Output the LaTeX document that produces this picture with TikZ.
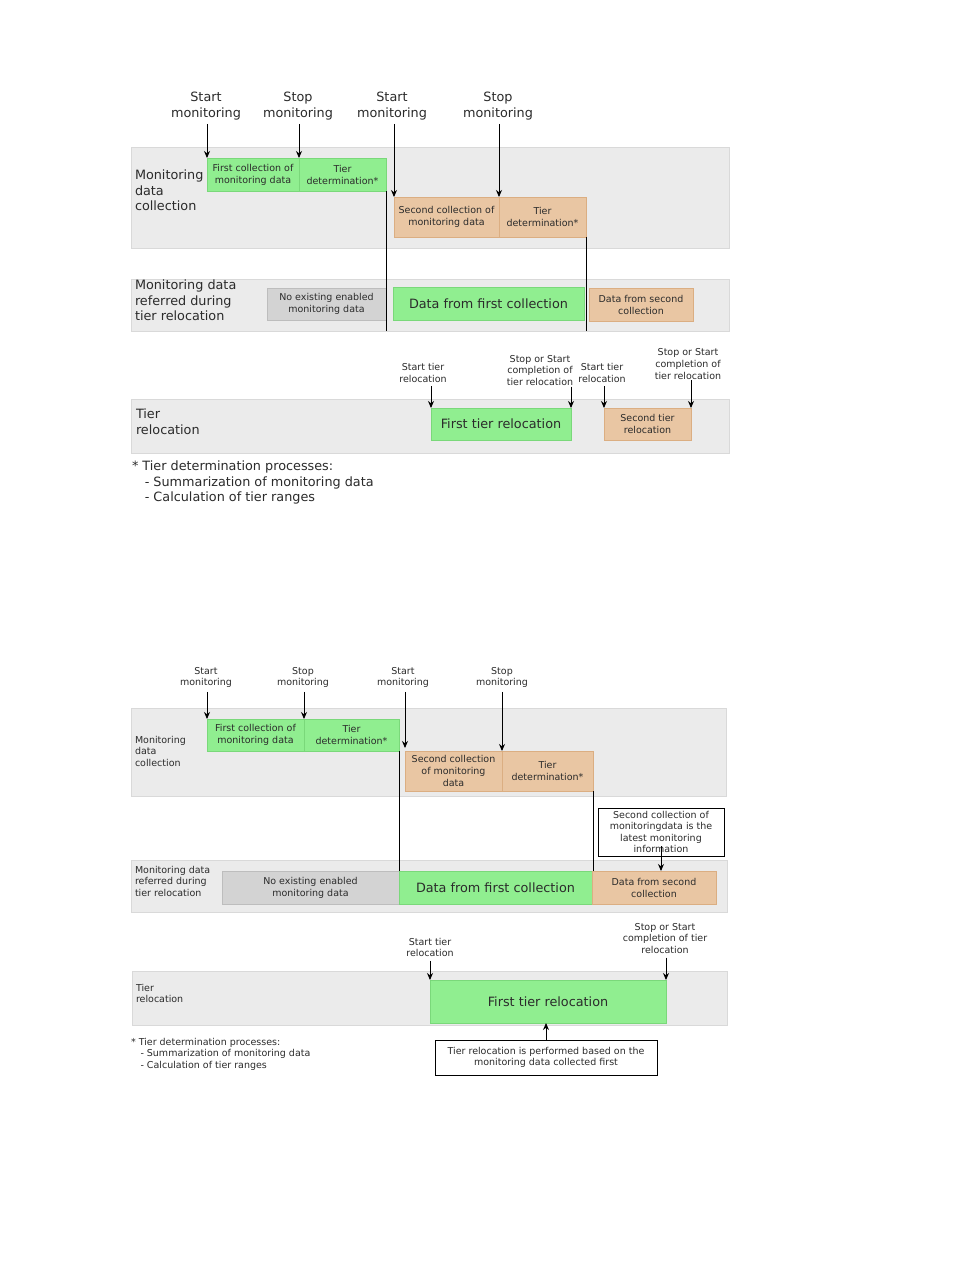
\documentclass[tikz,border=0pt]{standalone}
\usepackage{fontspec}
\setmainfont{DejaVu Sans}
\usetikzlibrary{positioning}
\usetikzlibrary{calc}
\usetikzlibrary{arrows.meta}

\definecolor{bandgray}{HTML}{EBEBEB}
\definecolor{bandline}{HTML}{D9D9D9}
\definecolor{boxgreen}{HTML}{90EE90}
\definecolor{linegreen}{HTML}{7AD87A}
\definecolor{boxorange}{HTML}{E9C6A3}
\definecolor{lineorange}{HTML}{DBAE82}
\definecolor{boxgray}{HTML}{D3D3D3}
\definecolor{linegray}{HTML}{BDBDBD}
\definecolor{txt}{HTML}{2B2B2B}

\newcommand{\bigtxt}{\fontsize{12.8}{15.5}\selectfont}
\newcommand{\smalltxt}{\fontsize{9.5}{11.6}\selectfont}
\newcommand{\boxtxt}{\fontsize{9.5}{12}\selectfont}

\begin{document}
\begin{tikzpicture}[x=1pt,y=-1pt,>={Stealth[length=7pt,width=6pt]},
	every node/.style={text=txt,inner sep=0pt,outer sep=0pt,align=center},
	sz/.style 2 args={anchor=north west,minimum width=#1pt,minimum height=#2pt},
	band/.style={draw=bandline,fill=bandgray,line width=0.8pt},
	greenbox/.style={draw=linegreen,fill=boxgreen,line width=0.8pt,font=\boxtxt},
	orangebox/.style={draw=lineorange,fill=boxorange,line width=0.8pt,font=\boxtxt},
	graybox/.style={draw=linegray,fill=boxgray,line width=0.8pt,font=\boxtxt},
	callout/.style={draw=black,fill=white,line width=0.9pt,font=\smalltxt},
	rowlabel/.style={anchor=north west,align=left},
	arr/.style={->,line width=0.9pt},
	link/.style={line width=0.9pt}]

	\fill[white] (0,0) rectangle (954,1270);
	\useasboundingbox (0,0) rectangle (954,1270);

	%% first diagram
	\node[band,sz={598}{101}] (band_1) at (131,147) {};
	\node[band,sz={598}{52}]  (band_2) at (131,279) {};
	\node[band,sz={598}{54}]  (band_3) at (131,399) {};

	\node[rowlabel,font=\bigtxt] (row_1) at (135,170) {Monitoring\\data\\collection};
	\node[rowlabel,font=\bigtxt] (row_2) at (135,280) {Monitoring data\\referred during\\tier relocation};
	\node[rowlabel,font=\bigtxt] (row_3) at (136,409) {Tier\\relocation};

	\node[font=\bigtxt] (sm_1) at (206,106) {Start\\monitoring};
	\node[font=\bigtxt] (sp_1) at (298,106) {Stop\\monitoring};
	\node[font=\bigtxt] (sm_2) at (392,106) {Start\\monitoring};
	\node[font=\bigtxt] (sp_2) at (498,106) {Stop\\monitoring};

	\node[greenbox,sz={92}{33}]   (fc_1) at (207,158) {First collection of\\monitoring data};
	\node[greenbox,sz={87}{33}]   (td_1) at (299,158) {Tier\\determination*};
	\node[orangebox,sz={105}{40}] (sc_1) at (394,197) {Second collection of\\monitoring data};
	\node[orangebox,sz={87}{40}]  (td_2) at (499,197) {Tier\\determination*};

	\node[graybox,sz={119}{32}]   (ne_1) at (267,288) {No existing enabled\\monitoring data};
	\node[greenbox,sz={191}{33},font=\bigtxt] (df_1) at (393,287) {Data from first collection};
	\node[orangebox,sz={104}{33}] (ds_1) at (589,288) {Data from second\\collection};

	\node[font=\smalltxt] (str_1) at (423,373) {Start tier\\relocation};
	\node[font=\smalltxt] (ssc_1) at (540,370.5) {Stop or Start\\completion of\\tier relocation};
	\node[font=\smalltxt] (str_2) at (602,373) {Start tier\\relocation};
	\node[font=\smalltxt] (ssc_2) at (688,364) {Stop or Start\\completion of\\tier relocation};

	\node[greenbox,sz={140}{32},font=\bigtxt] (ft_1) at (431,408) {First tier relocation};
	\node[orangebox,sz={87}{32}] (st_1) at (604,408) {Second tier\\relocation};

	\node[rowlabel,font=\bigtxt] (note_1) at (132,461)
		{* Tier determination processes:\\\hspace*{1em}- Summarization of monitoring data\\\hspace*{1em}- Calculation of tier ranges};

	\draw[arr] ([yshift=-4pt]sm_1.south -| fc_1.north west) -- (fc_1.north west);
	\draw[arr] ([yshift=-4pt]sp_1.south -| td_1.north west) -- (td_1.north west);
	\draw[arr] ([yshift=-4pt]sm_2.south -| sc_1.north west) -- (sc_1.north west);
	\draw[arr] ([yshift=-4pt]sp_2.south -| td_2.north west) -- (td_2.north west);
	\draw[link] (td_1.south east) -- (td_1.south east |- band_2.south);
	\draw[link] (td_2.south east) -- (td_2.south east |- band_2.south);

	\draw[arr] ([yshift=-4pt]str_1.south -| ft_1.north west) -- (ft_1.north west);
	\draw[arr] ([yshift=-1pt]ssc_1.south -| ft_1.north east) -- (ft_1.north east);
	\draw[arr] ([yshift=-4pt]str_2.south -| st_1.north west) -- (st_1.north west);
	\draw[arr] ([yshift=-1pt]ssc_2.south -| st_1.north east) -- (st_1.north east);

	%% second diagram
	\node[band,sz={595}{88}] (band_4) at (131,708) {};
	\node[band,sz={596}{52}] (band_5) at (131,860) {};
	\node[band,sz={595}{54}] (band_6) at (132,971) {};

	\node[rowlabel,font=\smalltxt] (row_4) at (135,736) {Monitoring\\data\\collection};
	\node[rowlabel,font=\smalltxt] (row_5) at (135,866) {Monitoring data\\referred during\\tier relocation};
	\node[rowlabel,font=\smalltxt] (row_6) at (136,984) {Tier\\relocation};

	\node[font=\smalltxt] (sm_3) at (206,677.5) {Start\\monitoring};
	\node[font=\smalltxt] (sp_3) at (303,677.5) {Stop\\monitoring};
	\node[font=\smalltxt] (sm_4) at (403,677.5) {Start\\monitoring};
	\node[font=\smalltxt] (sp_4) at (502,677.5) {Stop\\monitoring};

	\node[greenbox,sz={97}{32}]  (fc_2) at (207,719) {First collection of\\monitoring data};
	\node[greenbox,sz={95}{32}]  (td_3) at (304,719) {Tier\\determination*};
	\node[orangebox,sz={97}{40}] (sc_2) at (405,751) {Second collection\\of monitoring\\data};
	\node[orangebox,sz={91}{40}] (td_4) at (502,751) {Tier\\determination*};

	\node[callout,minimum width=126pt,minimum height=48pt,anchor=north west] (cb_1) at (598,808)
		{Second collection of\\monitoringdata is the\\latest monitoring\\information};

	\node[graybox,sz={177}{33}]   (ne_2) at (222,871) {No existing enabled\\monitoring data};
	\node[greenbox,sz={193}{33},font=\bigtxt] (df_2) at (399,871) {Data from first collection};
	\node[orangebox,sz={124}{33}] (ds_2) at (592,871) {Data from second\\collection};

	\node[font=\smalltxt] (str_3) at (430,947.5) {Start tier\\relocation};
	\node[font=\smalltxt] (ssc_3) at (665,938.5) {Stop or Start\\completion of tier\\relocation};

	\node[greenbox,sz={236}{43},font=\bigtxt] (ft_2) at (430,980) {First tier relocation};

	\node[callout,minimum width=222pt,minimum height=35pt,anchor=north west] (cb_2) at (435,1040)
		{Tier relocation is performed based on the\\monitoring data collected first};

	\node[rowlabel,font=\smalltxt] (note_2) at (131,1038)
		{* Tier determination processes:\\\hspace*{1em}- Summarization of monitoring data\\\hspace*{1em}- Calculation of tier ranges};

	\draw[arr] ([yshift=-4pt]sm_3.south -| fc_2.north west) -- (fc_2.north west);
	\draw[arr] ([yshift=-4pt]sp_3.south -| td_3.north west) -- (td_3.north west);
	\draw[arr] ([yshift=-4pt]sm_4.south -| sc_2.north west) -- ([yshift=3pt]sc_2.north west);
	\draw[arr] ([yshift=-4pt]sp_4.south -| td_4.north west) -- (td_4.north west);
	\draw[link] (td_3.south east) -- (df_2.north west);
	\draw[link] (td_4.south east) -- (td_4.south east |- ds_2.north);
	\draw[arr] ([yshift=10pt]cb_1.south) -- (cb_1.south |- ds_2.north);

	\draw[arr] ([yshift=-4pt]str_3.south -| ft_2.north west) -- (ft_2.north west);
	\draw[arr] ([yshift=-4pt]ssc_3.south -| ft_2.north east) -- (ft_2.north east);
	\draw[arr] (cb_2.north) -- (cb_2.north |- ft_2.south);
\end{tikzpicture}
\end{document}
